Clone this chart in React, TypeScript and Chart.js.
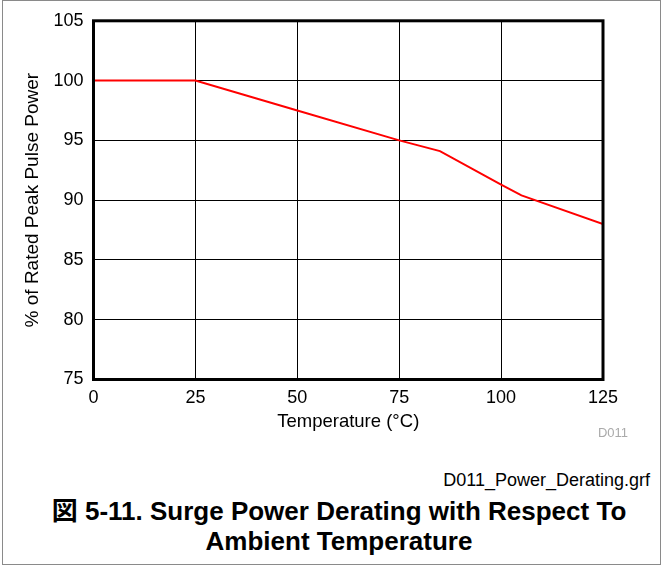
import React, { useEffect, useRef } from "react";
import { Chart, registerables } from "chart.js";

Chart.register(...registerables);

const temperatures = [0, 25, 50, 75, 85, 100, 105, 125];
const ratedPower = [100, 100, 97.5, 95, 94.1, 91.3, 90.4, 88];
const xTicks = [0, 25, 50, 75, 100, 125];
const yTicks = [75, 80, 85, 90, 95, 100, 105];

const FONT = '"Liberation Sans", Arial, Helvetica, sans-serif';

const frameBorder = {
  id: "frameBorder",
  afterDatasetsDraw(chart: any) {
    const { ctx, chartArea } = chart;
    ctx.save();
    ctx.strokeStyle = "#000";
    ctx.lineWidth = 3;
    ctx.strokeRect(
      chartArea.left,
      chartArea.top,
      chartArea.right - chartArea.left,
      chartArea.bottom - chartArea.top
    );
    ctx.restore();
  },
};

export default function App() {
  const ref = useRef<HTMLCanvasElement | null>(null);

  useEffect(() => {
    if (!ref.current) return;
    const chart = new Chart(ref.current, {
      type: "line",
      data: {
        datasets: [
          {
            data: temperatures.map((t, i) => ({ x: t, y: ratedPower[i] })),
            borderColor: "#ff0000",
            borderWidth: 2,
            pointRadius: 0,
            tension: 0,
            fill: false,
          },
        ],
      },
      options: {
        animation: false,
        responsive: false,
        maintainAspectRatio: false,
        layout: { padding: { left: 0, right: 58, top: 19.5, bottom: 0 } },
        plugins: {
          legend: { display: false },
          tooltip: { enabled: false },
          title: { display: false },
        },
        scales: {
          x: {
            type: "linear",
            min: 0,
            max: 125,
            afterBuildTicks: (scale: any) => {
              scale.ticks = xTicks.map((v) => ({ value: v }));
            },
            afterFit: (scale: any) => {
              scale.height = 65.5;
            },
            ticks: {
              color: "#000",
              font: { family: FONT, size: 18 },
              padding: 8,
              maxRotation: 0,
            },
            grid: { color: "#000", lineWidth: 1, drawTicks: false },
            border: { display: false },
            title: {
              display: true,
              text: "Temperature (°C)",
              color: "#000",
              font: { family: FONT, size: 18.5 },
              padding: { top: 0, bottom: 12 },
            },
          },
          y: {
            type: "linear",
            min: 75,
            max: 105,
            afterBuildTicks: (scale: any) => {
              scale.ticks = yTicks.map((v) => ({ value: v }));
            },
            afterFit: (scale: any) => {
              scale.width = 93.5;
            },
            ticks: {
              color: "#000",
              font: { family: FONT, size: 18 },
              padding: 10,
            },
            grid: { color: "#000", lineWidth: 1, drawTicks: false },
            border: { display: false },
            title: {
              display: true,
              text: "% of Rated Peak Pulse Power",
              color: "#000",
              font: { family: FONT, size: 19 },
              padding: { top: 21.5, bottom: 0 },
            },
          },
        },
      },
      plugins: [frameBorder],
    });
    return () => chart.destroy();
  }, []);

  return (
    <div
      style={{
        position: "fixed",
        left: 0,
        top: 0,
        width: 661,
        height: 565,
        background: "#fff",
        overflow: "hidden",
        fontFamily: FONT,
      }}
    >
      <div
        style={{
          position: "absolute",
          left: 2,
          top: 0,
          width: 657,
          height: 563,
          border: "1px solid #8a8a8a",
        }}
      />
      <canvas
        ref={ref}
        width={661}
        height={445}
        style={{ position: "absolute", left: 0, top: 0, width: 661, height: 445 }}
      />
      <div
        style={{
          position: "absolute",
          left: 0,
          width: 628,
          top: 424.5,
          textAlign: "right",
          fontSize: 13,
          lineHeight: "15px",
          color: "#aaaaaa",
        }}
      >
        D011
      </div>
      <div
        style={{
          position: "absolute",
          left: 0,
          width: 650,
          top: 469,
          textAlign: "right",
          fontSize: 18,
          lineHeight: "22px",
          color: "#000",
        }}
      >
        D011_Power_Derating.grf
      </div>
      <div
        style={{
          position: "absolute",
          left: 18,
          width: 642,
          top: 496,
          textAlign: "center",
          fontSize: 26,
          lineHeight: "30px",
          fontWeight: "bold",
          color: "#000",
          whiteSpace: "nowrap",
          fontFamily: '"Liberation Sans", Arial, "Noto Sans CJK JP", sans-serif',
        }}
      >
        <div>図 5-11. Surge Power Derating with Respect To</div>
        <div>Ambient Temperature</div>
      </div>
    </div>
  );
}
